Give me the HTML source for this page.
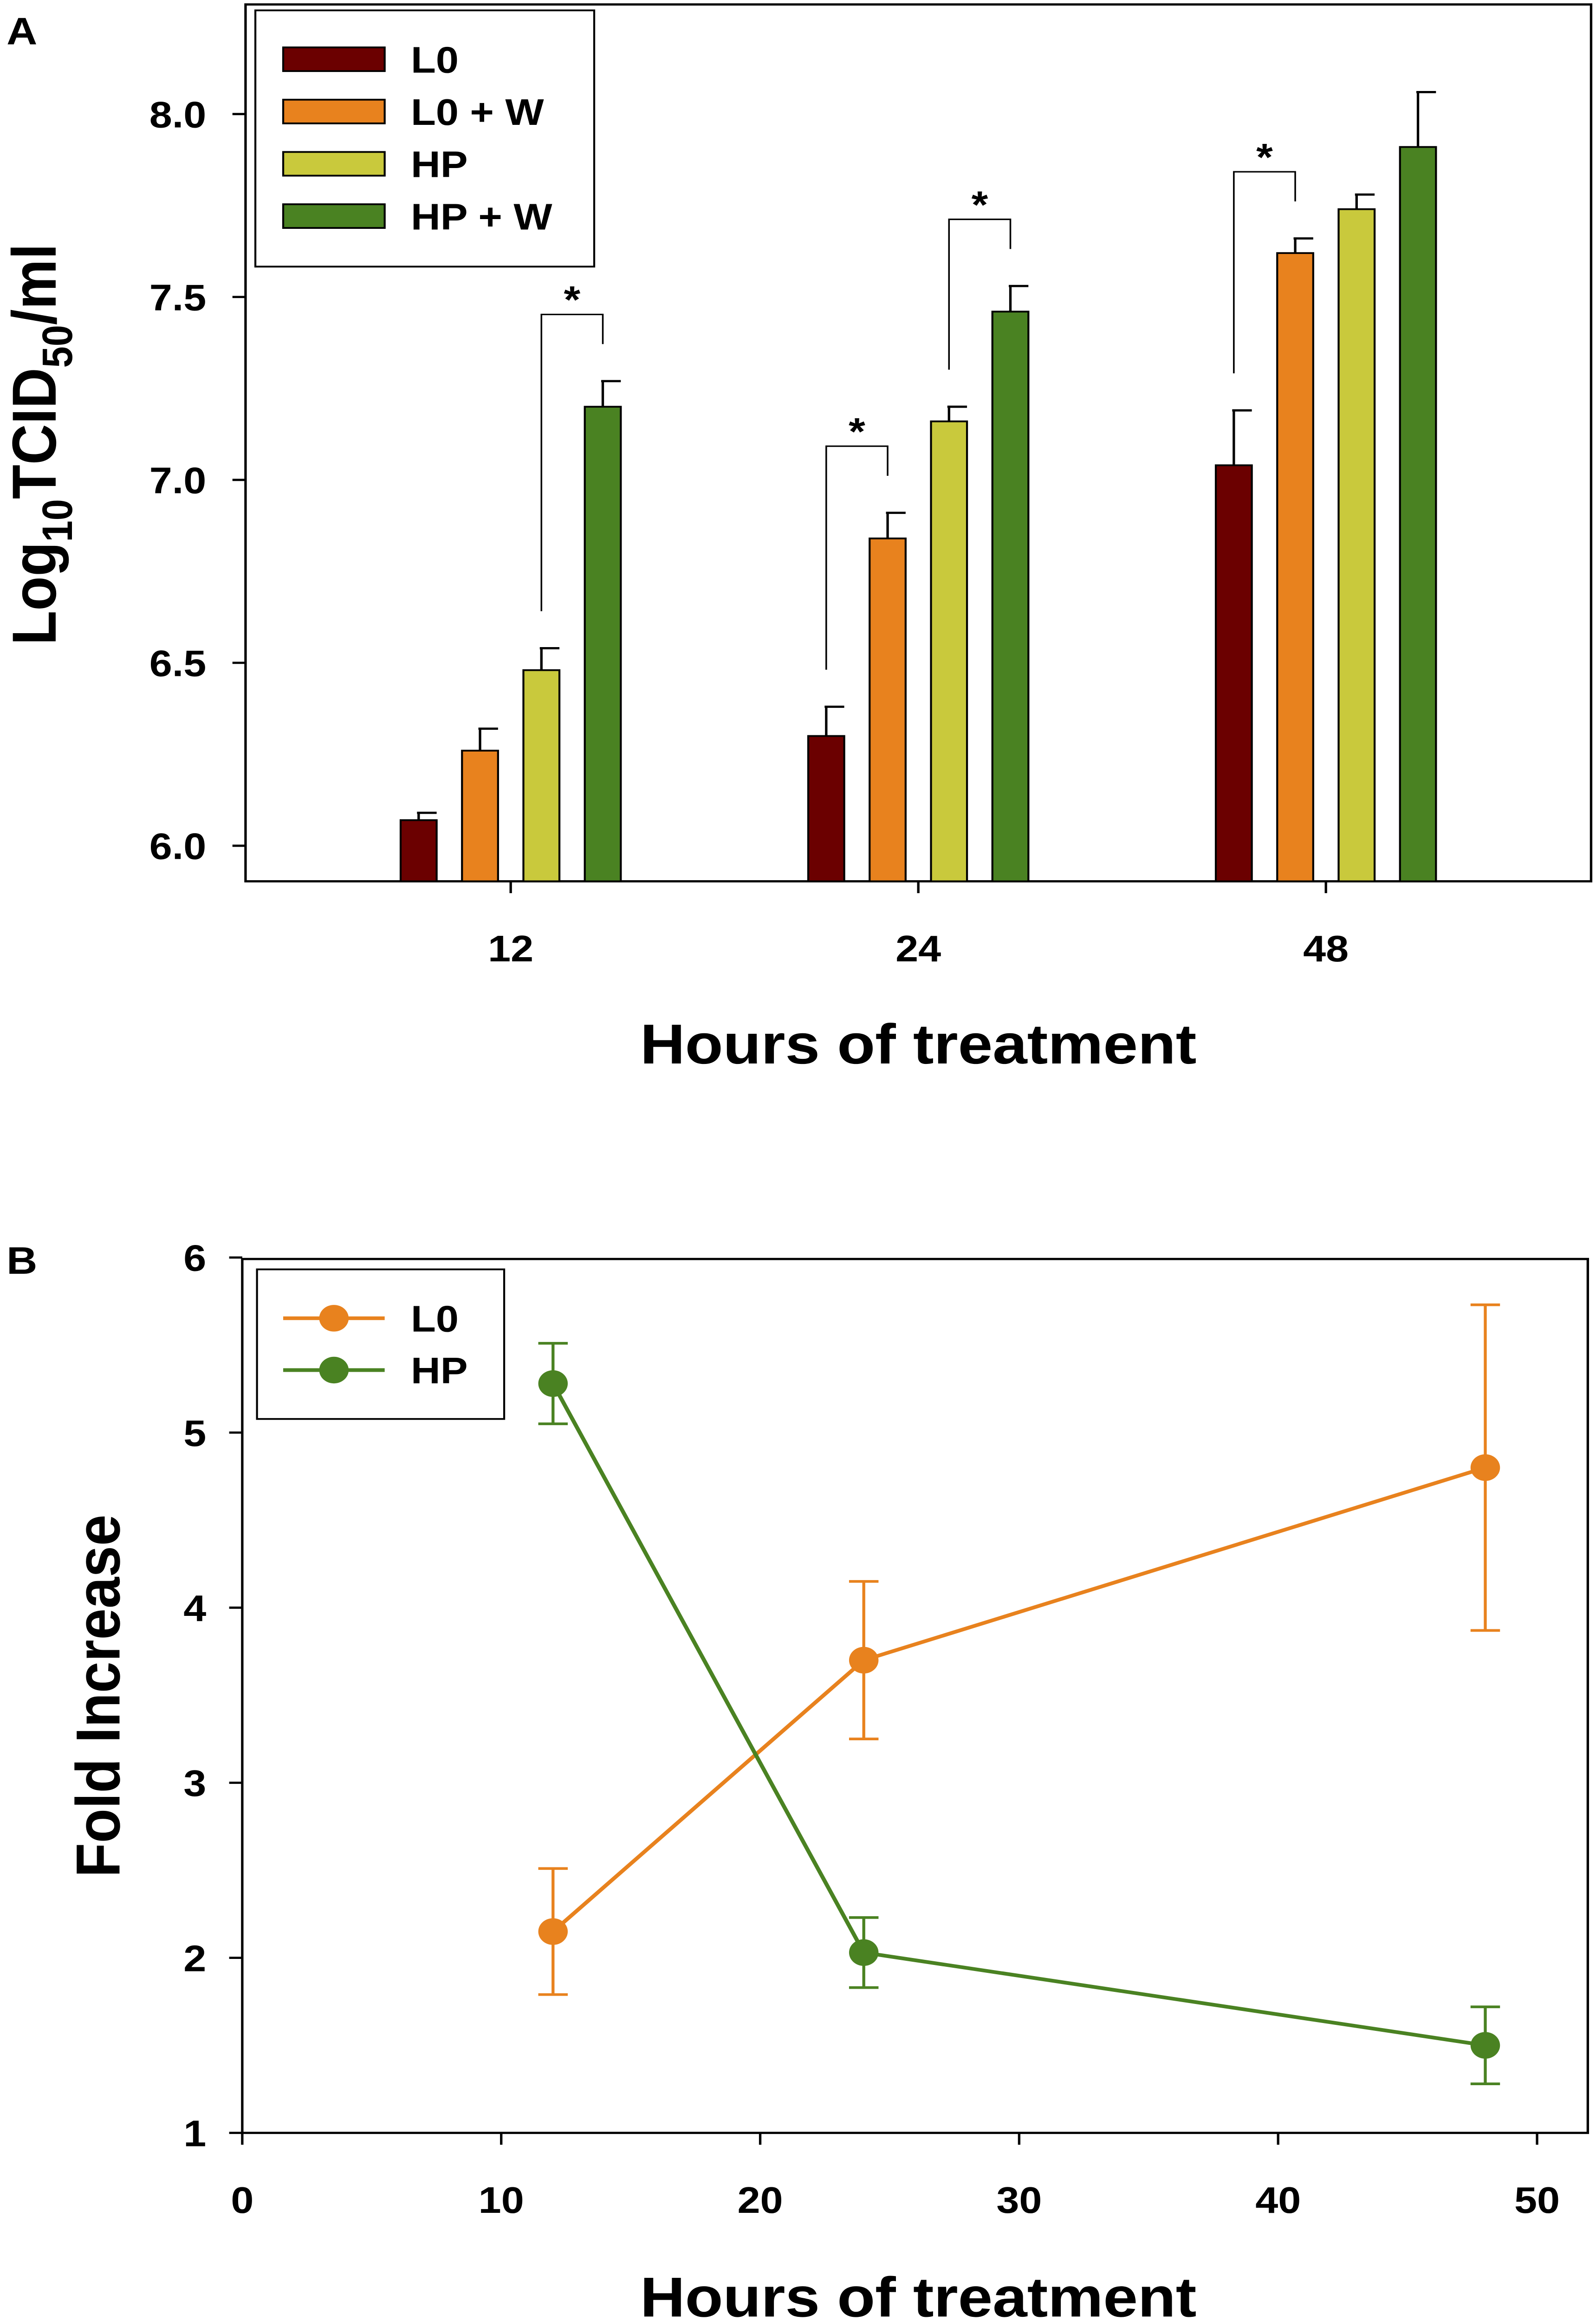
<!DOCTYPE html>
<html><head><meta charset="utf-8"><style>
html,body{margin:0;padding:0;background:#fff;overflow:hidden;width:100%;height:100%;}
svg{display:block;position:fixed;left:0;top:0;width:100vw;height:100vh;}
text{font-family:"Liberation Sans",Arial,sans-serif;font-weight:bold;fill:#000;}
</style></head><body>
<svg id="fig" viewBox="0 0 975 1567" preserveAspectRatio="none" xmlns="http://www.w3.org/2000/svg">
<text x="4" y="30" font-size="26">A</text>
<text x="4" y="860" font-size="26">B</text>
<g id="ga"></g>
<g id="gb"></g>
</svg>
<script>
// ---- Panel A data ----
const hours = ["12", "24", "48"];
const seriesNames = ["L0", "L0 + W", "HP", "HP + W"];
const seriesColors = ["#6B0000", "#E8821E", "#C9C93C", "#4A8222"];
const valL0 = [6.07, 6.30, 7.04];
const valL0W = [6.26, 6.84, 7.62];
const valHP = [6.48, 7.16, 7.74];
const valHPW = [7.20, 7.46, 7.91];
const errL0 = [0.02, 0.08, 0.15];
const errL0W = [0.06, 0.07, 0.04];
const errHP = [0.06, 0.04, 0.04];
const errHPW = [0.07, 0.07, 0.15];
const yTicksA = [6.0, 6.5, 7.0, 7.5, 8.0];
// significance brackets: [group, seriesA, seriesB]
const sigPairs = [[0, 2, 3], [1, 0, 1], [1, 2, 3], [2, 0, 1]];

// ---- Panel B data ----
const xB = [12, 24, 48];
const foldL0 = [2.15, 3.70, 4.80];
const foldL0Err = [0.36, 0.45, 0.93];
const foldHP = [5.28, 2.03, 1.50];
const foldHPErr = [0.23, 0.20, 0.22];
const xTicksB = [0, 10, 20, 30, 40, 50];
const yTicksB = [1, 2, 3, 4, 5, 6];

const NS = "http://www.w3.org/2000/svg";
function mk(parent, tag, attrs, txt) {
  const e = document.createElementNS(NS, tag);
  for (const k in attrs) e.setAttribute(k, attrs[k]);
  if (txt !== undefined) e.textContent = txt;
  parent.appendChild(e);
  return e;
}
// ---- Panel A ----
const ga = document.getElementById("ga");
const yA = v => 571 - (v - 6) * 247;
const groupX = [312, 561, 810];
const xA = (g, s) => groupX[g] + (s - 1.5) * 37.5;
const vals = [valL0, valL0W, valHP, valHPW];
const errs = [errL0, errL0W, errHP, errHPW];
let e = mk(ga, "rect", {x: 150, y: 3, width: 822, height: 592, fill: "none", stroke: "#000", "stroke-width": 1.5});


yTicksA.forEach(t => {
  const l = mk(ga, "line", {x1: 142, x2: 150, y1: yA(t), y2: yA(t), stroke: "#000", "stroke-width": 1.5});
  
  
  const tx = mk(ga, "text", {x: 126, y: yA(t) + 9, "font-size": 25, "text-anchor": "end"}, t.toFixed(1));
  
  
});
hours.forEach((h, g) => {
  const l = mk(ga, "line", {x1: groupX[g], x2: groupX[g], y1: 595, y2: 603, stroke: "#000", "stroke-width": 1.5});
  
  
  const tx = mk(ga, "text", {x: groupX[g], y: 649, "font-size": 25, "text-anchor": "middle"}, h);
  
  
  for (let s = 0; s < 4; s++) {
    const v = vals[s][g], er = errs[s][g], cx = xA(g, s);
    const r = mk(ga, "rect", {x: cx - 11, y: yA(v), width: 22, height: 595 - yA(v), fill: seriesColors[s], stroke: "#000", "stroke-width": 1.2});
    
    
    const eb = mk(ga, "path", {d: `M${cx} ${yA(v)}V${yA(v + er)}M${cx - 1} ${yA(v + er)}H${cx + 11}`, stroke: "#000", "stroke-width": 1.5, fill: "none"});
    
    
  }
});
sigPairs.forEach(p => {
  const [g, a, b] = p;
  const xa = xA(g, a), xb = xA(g, b);
  const ta = yA(vals[a][g] + errs[a][g]) - 25, tb = yA(vals[b][g] + errs[b][g]) - 25;
  const top = Math.min(ta, tb) - 20;
  const br = mk(ga, "path", {d: `M${xa} ${ta}V${top}H${xb}V${tb}`, stroke: "#000", "stroke-width": 1, fill: "none"});
  
  
  const st = mk(ga, "text", {x: (xa + xb) / 2, y: top - 1, "font-size": 26, "text-anchor": "middle"}, "*");
  
  
});
e = mk(ga, "rect", {x: 156, y: 7, width: 207, height: 173, fill: "#fff", stroke: "#000", "stroke-width": 1.2});


seriesNames.forEach((n, i) => {
  const y = 40 + i * 35.3;
  const sw = mk(ga, "rect", {x: 173, y: y - 8, width: 62, height: 16, fill: seriesColors[i], stroke: "#000", "stroke-width": 1.2});
  
  
  const tx = mk(ga, "text", {x: 251, y: y + 9, "font-size": 25}, n);
  
  
});
e = mk(ga, "text", {x: 561, y: 718, "font-size": 38, "text-anchor": "middle"}, "Hours of treatment");


e = mk(ga, "text", {transform: "translate(34,300) rotate(-90)", "font-size": 38, "text-anchor": "middle"});


e.innerHTML = 'Log<tspan font-size="26" dy="10">10</tspan><tspan dy="-10">TCID</tspan><tspan font-size="26" dy="10">50</tspan><tspan dy="-10">/ml</tspan>';

// ---- Panel B ----
const gb = document.getElementById("gb");
const xBs = v => 148 + v * 15.82;
const yBs = v => 1440 - (v - 1) * 118.2;
e = mk(gb, "rect", {x: 148, y: 850, width: 822, height: 590, fill: "none", stroke: "#000", "stroke-width": 1.5});


yTicksB.forEach(t => {
  const l = mk(gb, "line", {x1: 140, x2: 148, y1: yBs(t), y2: yBs(t), stroke: "#000", "stroke-width": 1.5});
  
  
  const tx = mk(gb, "text", {x: 126, y: yBs(t) + 9, "font-size": 25, "text-anchor": "end"}, String(t));
  
  
});
xTicksB.forEach(t => {
  const l = mk(gb, "line", {x1: xBs(t), x2: xBs(t), y1: 1440, y2: 1448, stroke: "#000", "stroke-width": 1.5});
  
  
  const tx = mk(gb, "text", {x: xBs(t), y: 1494, "font-size": 25, "text-anchor": "middle"}, String(t));
  
  
});
function series(vals, errs, color, name) {
  const pl = mk(gb, "polyline", {points: xB.map((x, i) => xBs(x) + "," + yBs(vals[i])).join(" "), fill: "none", stroke: color, "stroke-width": 2.5});
  
  
  xB.forEach((x, i) => {
    const cx = xBs(x), lo = yBs(vals[i] - errs[i]), hi = yBs(vals[i] + errs[i]);
    const eb = mk(gb, "path", {d: `M${cx} ${lo}V${hi}M${cx - 9} ${lo}H${cx + 9}M${cx - 9} ${hi}H${cx + 9}`, stroke: color, "stroke-width": 1.8, fill: "none"});
    
    
    const c = mk(gb, "circle", {cx: cx, cy: yBs(vals[i]), r: 9, fill: color});
    
    
  });
}
series(foldL0, foldL0Err, "#E8821E", "l0");
series(foldHP, foldHPErr, "#4A8222", "hp");
e = mk(gb, "rect", {x: 157, y: 857, width: 151, height: 101, fill: "#fff", stroke: "#000", "stroke-width": 1.2});


[["L0", "#E8821E"], ["HP", "#4A8222"]].forEach((d, i) => {
  const y = 890 + i * 35;
  const l = mk(gb, "line", {x1: 173, x2: 235, y1: y, y2: y, stroke: d[1], "stroke-width": 2.5});
  
  
  const c = mk(gb, "circle", {cx: 204, cy: y, r: 9, fill: d[1]});
  
  
  const tx = mk(gb, "text", {x: 251, y: y + 9, "font-size": 25}, d[0]);
  
  
});
e = mk(gb, "text", {x: 561, y: 1564, "font-size": 38, "text-anchor": "middle"}, "Hours of treatment");


e = mk(gb, "text", {transform: "translate(73,1145) rotate(-90)", "font-size": 38, "text-anchor": "middle"}, "Fold Increase");


</script>
</body></html>
